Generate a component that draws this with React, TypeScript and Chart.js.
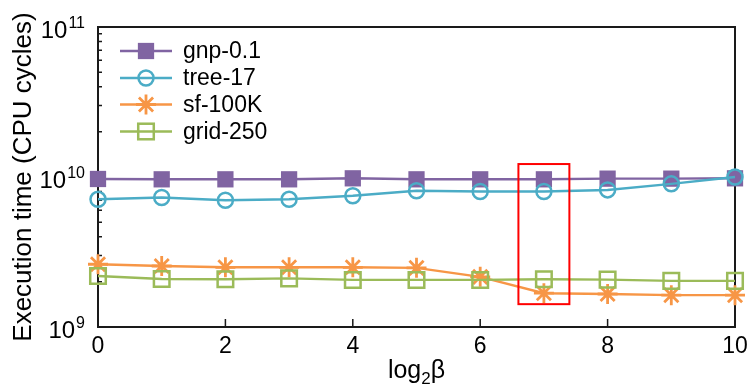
import React, { useEffect, useRef } from 'react';
import { Chart, registerables } from 'chart.js';

Chart.register(...registerables);

const xValues = [0, 1, 2, 3, 4, 5, 6, 7, 8, 9, 10];
const gnp = [9.7e9, 9.65e9, 9.65e9, 9.65e9, 9.8e9, 9.65e9, 9.65e9, 9.65e9, 9.75e9, 9.75e9, 9.8e9];
const tree = [7.1e9, 7.3e9, 7.0e9, 7.1e9, 7.5e9, 8.1e9, 8.0e9, 8.0e9, 8.2e9, 9.0e9, 1.0e10];
const sf = [2.62e9, 2.55e9, 2.5e9, 2.5e9, 2.5e9, 2.48e9, 2.16e9, 1.68e9, 1.66e9, 1.63e9, 1.63e9];
const grid = [2.19e9, 2.09e9, 2.08e9, 2.11e9, 2.06e9, 2.06e9, 2.06e9, 2.08e9, 2.07e9, 2.03e9, 2.03e9];
const seriesNames = ['gnp-0.1', 'tree-17', 'sf-100K', 'grid-250'];
const xTicks = [0, 2, 4, 6, 8, 10];
const yExponents = [9, 10, 11];
const highlightX = [6.6, 7.4];
const highlightY = [1.42e9, 1.22e10];

const FONT = '"Liberation Sans", Arial, Helvetica, sans-serif';
const COLORS = ['#8064A2', '#4BACC6', '#F79646', '#9BBB59'];
const STYLES: any[] = [
  { pointStyle: 'rect', radius: 11.5, fill: true, bw: 0 },
  { pointStyle: 'circle', radius: 7.5, fill: false, bw: 2.5 },
  { pointStyle: 'star', radius: 10, fill: false, bw: 2.8 },
  { pointStyle: 'rect', radius: 11, fill: false, bw: 2.5 },
];
const AXIS = '#1a1a1a';

function drawMarker(ctx: CanvasRenderingContext2D, style: string, x: number, y: number, r: number, color: string, fill: boolean, bw: number) {
  ctx.save();
  ctx.strokeStyle = color;
  ctx.fillStyle = color;
  ctx.lineWidth = bw || 2.5;
  if (style === 'rect') {
    const s = r / Math.SQRT2;
    if (fill) ctx.fillRect(x - s, y - s, 2 * s, 2 * s);
    else ctx.strokeRect(x - s, y - s, 2 * s, 2 * s);
  } else if (style === 'circle') {
    ctx.beginPath();
    ctx.arc(x, y, r, 0, Math.PI * 2);
    ctx.stroke();
  } else if (style === 'star') {
    ctx.beginPath();
    for (let k = 0; k < 4; k++) {
      const a = (k * Math.PI) / 4;
      ctx.moveTo(x - Math.cos(a) * r, y - Math.sin(a) * r);
      ctx.lineTo(x + Math.cos(a) * r, y + Math.sin(a) * r);
    }
    ctx.stroke();
  }
  ctx.restore();
}

const customPlugin = {
  id: 'customDecor',
  beforeDatasetsDraw(chart: any) {
    const { ctx, chartArea: a, scales } = chart;
    const xs = scales.x;
    const ys = scales.y;
    ctx.save();
    ctx.strokeStyle = AXIS;
    ctx.lineWidth = 2;
    ctx.strokeRect(a.left, a.top, a.right - a.left, a.bottom - a.top);
    ctx.lineWidth = 1.5;
    ctx.beginPath();
    for (const t of xTicks) {
      const px = xs.getPixelForValue(t);
      ctx.moveTo(px, a.bottom);
      ctx.lineTo(px, a.bottom - 8);
    }
    for (let e = yExponents[0]; e < yExponents[yExponents.length - 1]; e++) {
      for (let m = 1; m <= 9; m++) {
        const py = ys.getPixelForValue(m * Math.pow(10, e));
        ctx.moveTo(a.left, py);
        ctx.lineTo(a.left + (m === 1 ? 8 : 4), py);
      }
    }
    ctx.stroke();
    ctx.restore();
  },
  afterDatasetsDraw(chart: any) {
    const { ctx, scales } = chart;
    const xs = scales.x;
    const ys = scales.y;
    const x0 = xs.getPixelForValue(highlightX[0]);
    const x1 = xs.getPixelForValue(highlightX[1]);
    const y0 = ys.getPixelForValue(highlightY[1]);
    const y1 = ys.getPixelForValue(highlightY[0]);
    ctx.save();
    ctx.strokeStyle = '#ff0000';
    ctx.lineWidth = 2;
    ctx.strokeRect(x0, y0, x1 - x0, y1 - y0);
    ctx.restore();
  },
  afterDraw(chart: any) {
    const { ctx, chartArea: a, scales } = chart;
    const xs = scales.x;
    const ys = scales.y;
    ctx.save();
    ctx.fillStyle = '#000';
    ctx.font = `23px ${FONT}`;
    ctx.textAlign = 'center';
    ctx.textBaseline = 'alphabetic';
    for (const t of xTicks) {
      ctx.fillText(String(t), xs.getPixelForValue(t), 353);
    }
    const R = 85;
    for (const e of yExponents) {
      const py = ys.getPixelForValue(Math.pow(10, e));
      ctx.font = `16px ${FONT}`;
      const sup = String(e);
      const sw = ctx.measureText(sup).width;
      ctx.textAlign = 'left';
      ctx.fillText(sup, R - sw, py + 1);
      ctx.font = `24px ${FONT}`;
      ctx.textAlign = 'right';
      ctx.fillText('10', R - sw - 1, py + 11);
    }
    const main1 = 'log';
    const sub = '2';
    const main2 = 'β';
    ctx.font = `25px ${FONT}`;
    const w1 = ctx.measureText(main1).width;
    const w3 = ctx.measureText(main2).width;
    ctx.font = `17px ${FONT}`;
    const w2 = ctx.measureText(sub).width;
    const total = w1 + w2 + w3;
    let cx = (a.left + a.right) / 2 - total / 2;
    ctx.textAlign = 'left';
    ctx.font = `25px ${FONT}`;
    ctx.fillText(main1, cx, 378);
    cx += w1;
    ctx.font = `17px ${FONT}`;
    ctx.fillText(sub, cx, 384);
    cx += w2;
    ctx.font = `25px ${FONT}`;
    ctx.fillText(main2, cx, 378);
    ctx.save();
    ctx.translate(31, 177);
    ctx.rotate(-Math.PI / 2);
    ctx.font = `26px ${FONT}`;
    ctx.textAlign = 'center';
    ctx.fillText('Execution time (CPU cycles)', 0, 0);
    ctx.restore();
    const rows = [51, 78, 104.5, 131.5];
    for (let i = 0; i < seriesNames.length; i++) {
      const ly = rows[i];
      ctx.strokeStyle = COLORS[i];
      ctx.lineWidth = 2.4;
      ctx.beginPath();
      ctx.moveTo(120, ly);
      ctx.lineTo(172, ly);
      ctx.stroke();
      const st = STYLES[i];
      drawMarker(ctx, st.pointStyle, 146, ly, st.radius, COLORS[i], st.fill, st.bw);
      ctx.fillStyle = '#000';
      ctx.font = `23px ${FONT}`;
      ctx.textAlign = 'left';
      ctx.textBaseline = 'middle';
      ctx.fillText(seriesNames[i], 183, ly + 1);
      ctx.textBaseline = 'alphabetic';
    }
    ctx.restore();
  },
};

export default function App() {
  const ref = useRef<HTMLCanvasElement | null>(null);
  useEffect(() => {
    document.body.style.margin = '0';
    if (!ref.current) return;
    const allSeries = [gnp, tree, sf, grid];
    const datasets = allSeries.map((vals, i) => ({
      label: seriesNames[i],
      data: xValues.map((x, j) => ({ x, y: vals[j] })),
      borderColor: COLORS[i],
      backgroundColor: STYLES[i].fill ? COLORS[i] : 'rgba(0,0,0,0)',
      pointBackgroundColor: STYLES[i].fill ? COLORS[i] : 'rgba(0,0,0,0)',
      pointBorderColor: COLORS[i],
      pointStyle: STYLES[i].pointStyle,
      pointRadius: STYLES[i].radius,
      pointHoverRadius: STYLES[i].radius,
      pointBorderWidth: STYLES[i].bw,
      borderWidth: 2.4,
      tension: 0,
      fill: false,
      clip: false as any,
      order: 4 - i,
    }));
    const chart = new Chart(ref.current, {
      type: 'line',
      data: { datasets },
      options: {
        animation: false,
        responsive: false,
        maintainAspectRatio: false,
        layout: { padding: { left: 98, right: 19, top: 27, bottom: 58 } },
        plugins: { legend: { display: false }, tooltip: { enabled: false }, title: { display: false } },
        events: [],
        scales: {
          x: { type: 'linear', min: 0, max: 10, display: false },
          y: { type: 'logarithmic', min: 1e9, max: 1e11, display: false },
        },
      },
      plugins: [customPlugin],
    });
    return () => chart.destroy();
  }, []);
  return (
    <div style={{ position: 'absolute', left: 0, top: 0, width: 754, height: 385, background: '#fff' }}>
      <canvas ref={ref} width={754} height={385} />
    </div>
  );
}
